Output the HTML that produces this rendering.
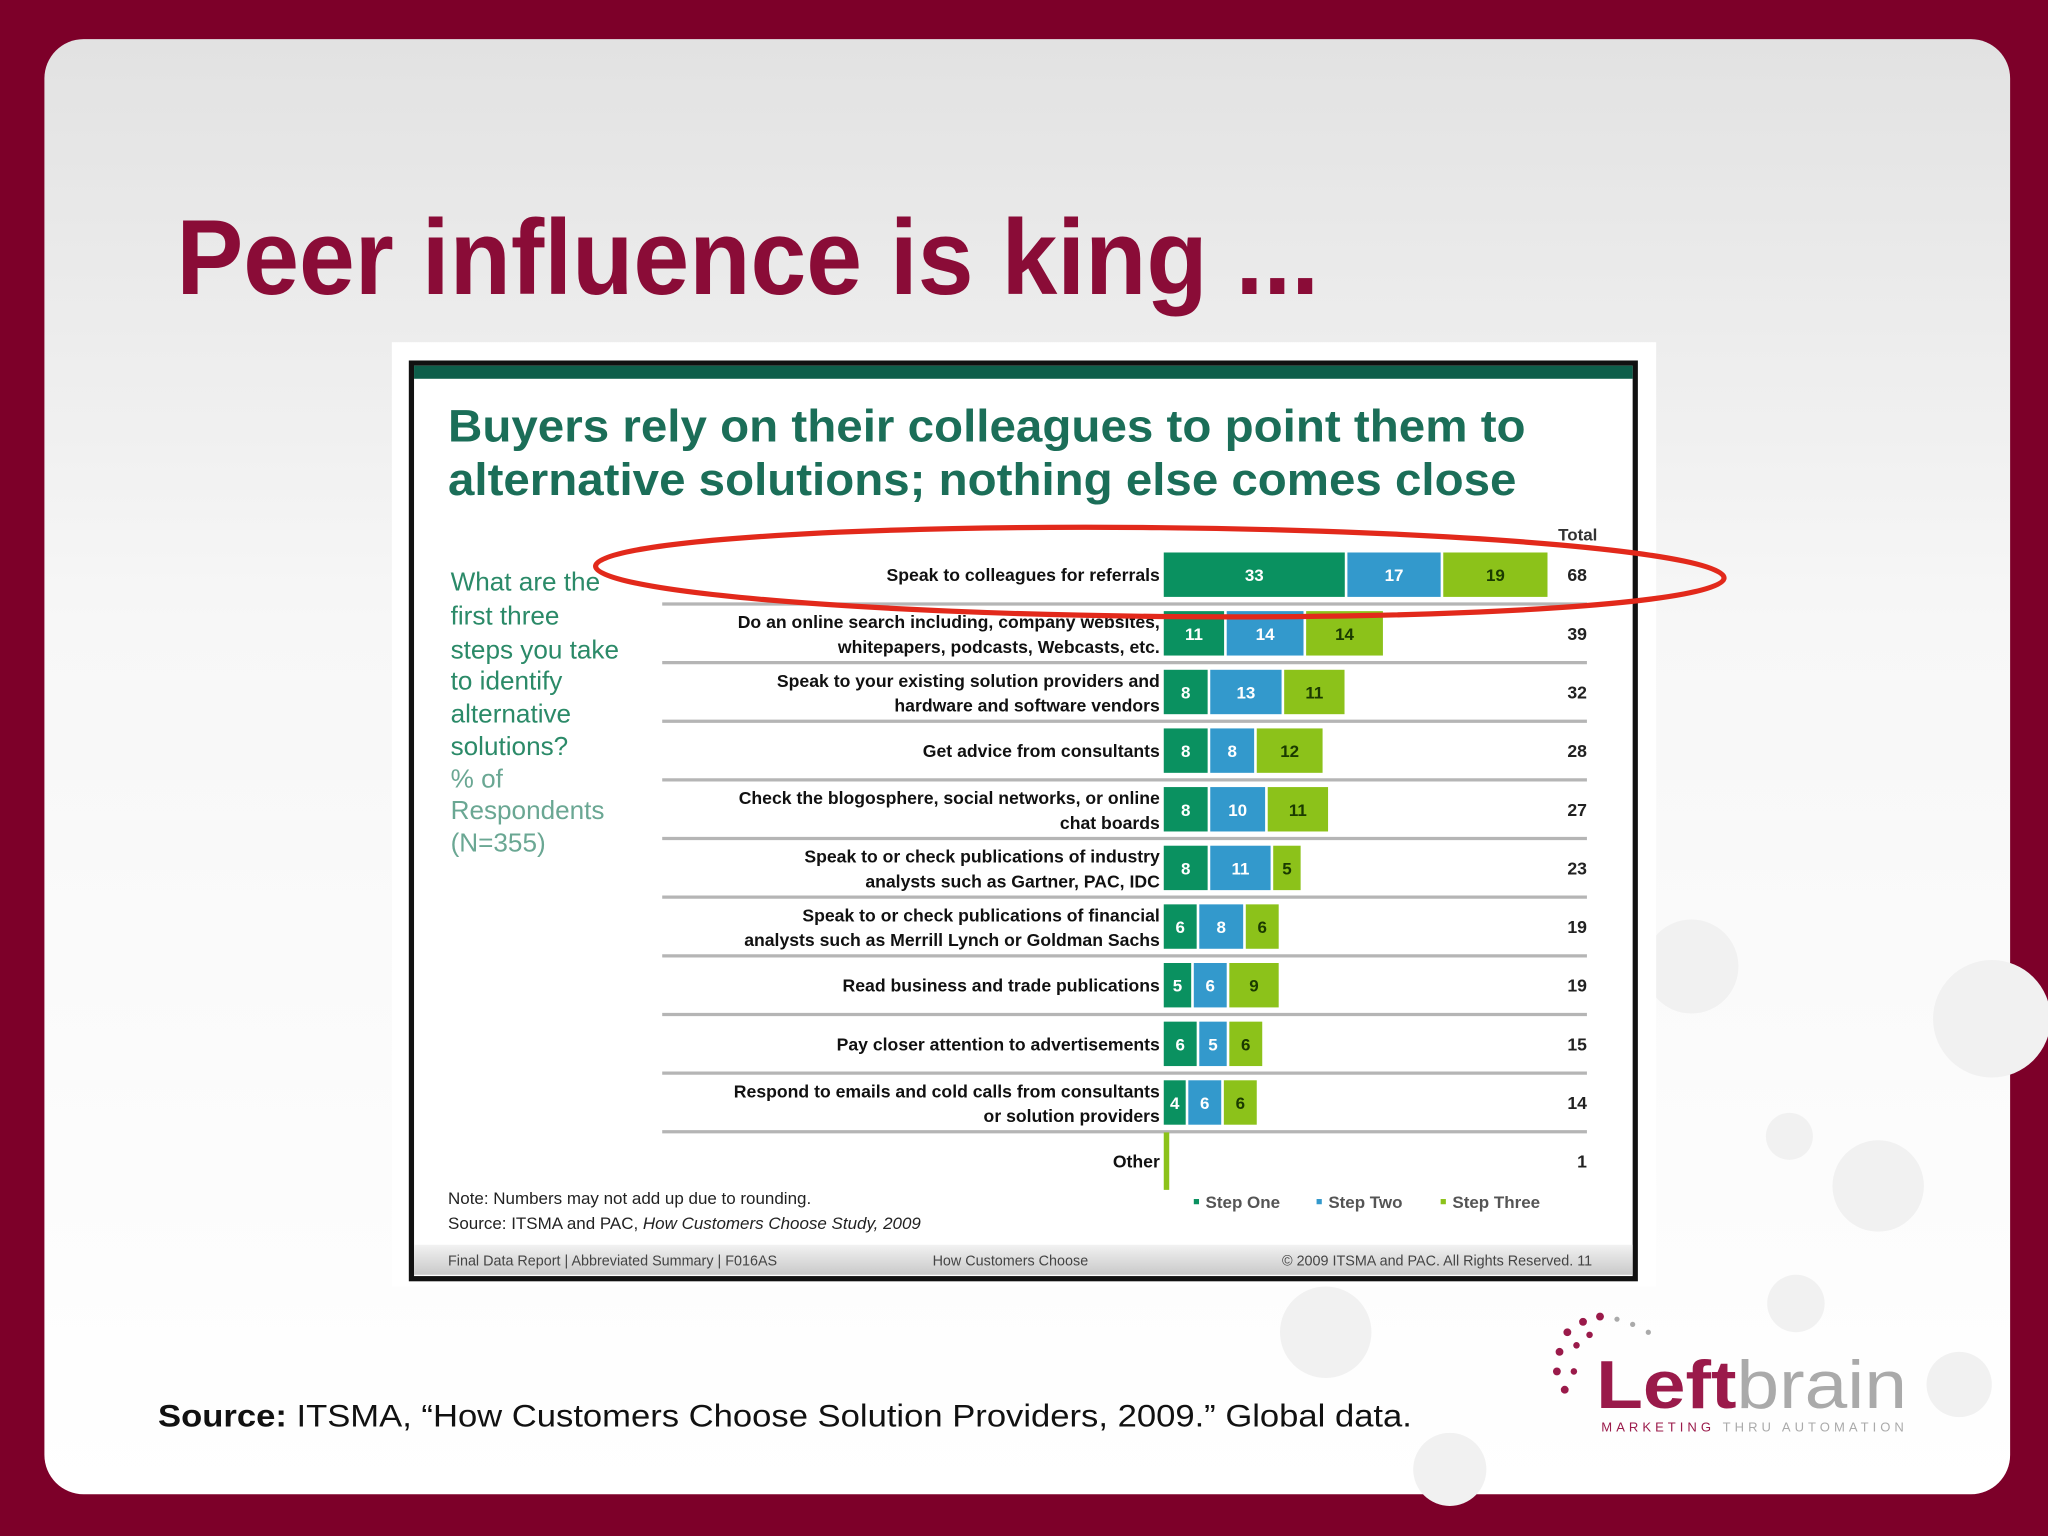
<!DOCTYPE html>
<html><head><meta charset="utf-8"><style>
html,body{margin:0;padding:0;background:#7d0029;}
svg{display:block}
text{font-family:"Liberation Sans",sans-serif}
</style></head><body>
<svg width="2048" height="1536" viewBox="0 0 1568 1176" xmlns="http://www.w3.org/2000/svg">
<defs>
<linearGradient id="bg" x1="0" y1="0" x2="0" y2="1">
<stop offset="0" stop-color="#e2e2e2"/><stop offset="0.4" stop-color="#f7f7f7"/><stop offset="1" stop-color="#ffffff"/>
</linearGradient>
<linearGradient id="foot" x1="0" y1="0" x2="0" y2="1">
<stop offset="0" stop-color="#f2f2f2"/><stop offset="1" stop-color="#c9c9c9"/>
</linearGradient>
</defs>
<rect width="1568" height="1176" fill="#7d0029"/>
<rect x="34" y="30" width="1505" height="1114" rx="30" fill="url(#bg)"/>
<g fill="#f1f1f1">
<circle cx="1295" cy="740" r="36"/><circle cx="1525" cy="780" r="45"/><circle cx="1438" cy="908" r="35"/>
<circle cx="1370" cy="870" r="18"/><circle cx="1375" cy="998" r="22"/><circle cx="1015" cy="1020" r="35"/>
<circle cx="1110" cy="1125" r="28"/><circle cx="1500" cy="1060" r="25"/>
</g>
<text x="135" y="225" font-size="82" font-weight="bold" fill="#8a0c37" textLength="875" lengthAdjust="spacingAndGlyphs">Peer influence is king ...</text>

<rect x="300" y="262" width="968" height="723" fill="#fff"/>
<rect x="315" y="278" width="937" height="701" fill="#fff" stroke="#111" stroke-width="4"/>
<rect x="317" y="280" width="933" height="10" fill="#0d5e4a"/>
<text x="343" y="338" font-size="35" font-weight="bold" fill="#1b6e58" textLength="825" lengthAdjust="spacingAndGlyphs">Buyers rely on their colleagues to point them to</text>
<text x="343" y="379" font-size="35" font-weight="bold" fill="#1b6e58" textLength="818" lengthAdjust="spacingAndGlyphs">alternative solutions; nothing else comes close</text>

<g font-size="20" fill="#2b8a68">
<text x="345" y="452">What are the</text><text x="345" y="478">first three</text><text x="345" y="504">steps you take</text>
<text x="345" y="528">to identify</text><text x="345" y="553">alternative</text><text x="345" y="578">solutions?</text>
<text x="345" y="603" fill="#6aa793">% of</text><text x="345" y="627" fill="#6aa793">Respondents</text><text x="345" y="652" fill="#6aa793">(N=355)</text>
</g>
<text x="1223" y="414" font-size="13" font-weight="bold" fill="#333" text-anchor="end">Total</text>

<g id="chart"></g>

<g font-size="13" fill="#222">
<text x="343" y="922">Note: Numbers may not add up due to rounding.</text>
<text x="343" y="941">Source: ITSMA and PAC, <tspan font-style="italic">How Customers Choose Study, 2009</tspan></text>
</g>
<g font-size="13" font-weight="bold" fill="#555">
<rect x="914" y="918" width="4" height="4" fill="#0a9160"/><text x="923" y="925">Step One</text>
<rect x="1008" y="918" width="4" height="4" fill="#3399cc"/><text x="1017" y="925">Step Two</text>
<rect x="1103" y="918" width="4" height="4" fill="#8cc21a"/><text x="1112" y="925">Step Three</text>
</g>
<rect x="317" y="953" width="933" height="23" fill="url(#foot)"/>
<g font-size="11" fill="#444">
<text x="343" y="969">Final Data Report | Abbreviated Summary | F016AS</text>
<text x="714" y="969">How Customers Choose</text>
<text x="1219" y="969" text-anchor="end">© 2009 ITSMA and PAC. All Rights Reserved. 11</text>
</g>
<ellipse cx="888" cy="438" rx="432" ry="34" fill="none" stroke="#e2291b" stroke-width="4" transform="rotate(0.6 888 438)"/>

<text x="121" y="1092" font-size="24" fill="#111" textLength="960" lengthAdjust="spacingAndGlyphs"><tspan font-weight="bold">Source:</tspan>  ITSMA, “How Customers Choose Solution Providers, 2009.”  Global data.</text>
<g>
<g fill="#9a1a4a">
<circle cx="1200" cy="1020" r="3"/><circle cx="1212" cy="1012" r="3"/><circle cx="1225" cy="1008" r="3"/><circle cx="1194" cy="1035" r="3"/>
<circle cx="1192" cy="1050" r="3"/><circle cx="1198" cy="1064" r="3"/><circle cx="1207" cy="1030" r="2.5"/><circle cx="1205" cy="1050" r="2.5"/>
<circle cx="1217" cy="1022" r="2.5"/><circle cx="1238" cy="1010" r="2" fill="#aaa"/><circle cx="1250" cy="1014" r="2" fill="#aaa"/><circle cx="1262" cy="1020" r="2" fill="#aaa"/>
</g>
<text x="1222" y="1078" font-size="52" font-weight="bold" fill="#9a1a4a" textLength="238" lengthAdjust="spacingAndGlyphs">Left<tspan font-weight="normal" fill="#aaa">brain</tspan></text>
<text x="1226" y="1096" font-size="10" letter-spacing="2.4" fill="#9a1a4a" textLength="234">MARKETING <tspan fill="#aaa">THRU AUTOMATION</tspan></text>
</g>
</svg>
<script>
const categories = [
 ["Speak to colleagues for referrals"],
 ["Do an online search including, company websites,","whitepapers, podcasts, Webcasts, etc."],
 ["Speak to your existing solution providers and","hardware and software vendors"],
 ["Get advice from consultants"],
 ["Check the blogosphere, social networks, or online","chat boards"],
 ["Speak to or check publications of industry","analysts such as Gartner, PAC, IDC"],
 ["Speak to or check publications of financial","analysts such as Merrill Lynch or Goldman Sachs"],
 ["Read business and trade publications"],
 ["Pay closer attention to advertisements"],
 ["Respond to emails and cold calls from consultants","or solution providers"],
 ["Other"]
];
const stepOne = [33,11,8,8,8,8,6,5,6,4,0];
const stepTwo = [17,14,13,8,10,11,8,6,5,6,0];
const stepThree = [19,14,11,12,11,5,6,9,6,6,1];
const totals = [68,39,32,28,27,23,19,19,15,14,1];

const NS = "http://www.w3.org/2000/svg";
const g = document.getElementById('chart');
const x0 = 891, unit = 4.2, gap = 2, rowTop = 440, rowStep = 44.9, barH = 34;
const xs = v => v * unit;
const yc = i => rowTop + i * rowStep;
const colors = ["#0a9160","#3399cc","#8cc21a"];
const txtCol = ["#fff","#fff","#1a3a00"];
function mk(tag, attrs){const e=document.createElementNS(NS,tag);for(const k in attrs)e.setAttribute(k,attrs[k]);g.appendChild(e);return e;}
categories.forEach((lab,i)=>{
  const y = yc(i);
  if(i>0){
    const ln = mk('line',{x1:507,x2:1215,y1:y-22.5,y2:y-22.5,stroke:'#b5b5b5','stroke-width':2.5});
    
    
  }
  const t = mk('text',{x:888,'text-anchor':'end','font-size':13.5,'font-weight':'bold',fill:'#111'});
  
  
  if(lab.length===1){t.setAttribute('y',y+5);t.textContent=lab[0];}
  else{lab.forEach((l,k)=>{const ts=document.createElementNS(NS,'tspan');ts.setAttribute('x',888);ts.setAttribute('y',y-4+k*19);ts.textContent=l;t.appendChild(ts);});}
  let x = x0;
  [stepOne[i],stepTwo[i],stepThree[i]].forEach((v,s)=>{
    if(v<=0) return;
    const w = Math.max(xs(v), 2);
    const h = i===10 ? 44 : barH;
    const r = mk('rect',{x:x,y:y-h/2,width:w,height:h,fill:colors[s]});
    
    
    if(i<10){
      const vt = mk('text',{x:x+w/2,y:y+5,'text-anchor':'middle','font-size':13,'font-weight':'bold',fill:txtCol[s]});
      
      
      vt.textContent = v;
    }
    x += w + gap;
  });
  const tt = mk('text',{x:1215,y:y+5,'text-anchor':'end','font-size':13.5,'font-weight':'bold',fill:'#222'});
  
  
  tt.textContent = totals[i];
});
</script>
</body></html>
